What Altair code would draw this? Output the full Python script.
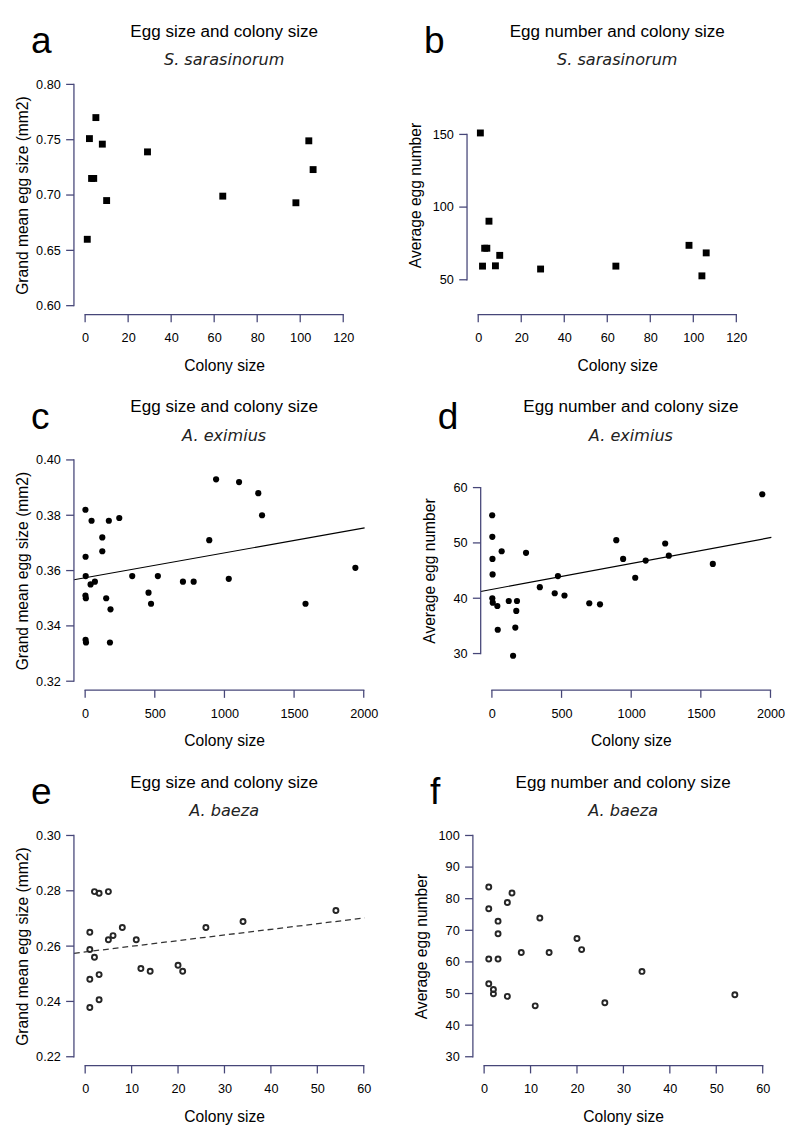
import altair as alt
import pandas as pd

FONT = "Liberation Sans"
W = 298           # plot width
H = 245           # plot height
CX = 154          # horizontal centre of the title block

# ---------------- data ----------------
ss_colony = [1, 2, 3, 4, 5, 8, 10, 29, 64, 98, 104, 106]
ss_eggsize = [0.660, 0.751, 0.715, 0.715, 0.770, 0.746, 0.695, 0.739, 0.699, 0.693, 0.749, 0.723]
ss_eggnum = [151, 59.4, 71.7, 71.7, 90.3, 59.6, 66.8, 57.4, 59.4, 73.7, 52.7, 68.5]

ae_colony_s = [2, 46, 3, 123, 123, 170, 245, 4, 70, 39, 2, 5, 151, 182, 3, 6,
               178, 338, 455, 473, 522, 702, 779, 891, 940, 1031, 1105, 1243, 1270, 1582, 1940]
ae_eggsize = [0.382, 0.378, 0.365, 0.372, 0.367, 0.378, 0.379, 0.358, 0.356, 0.355, 0.351,
              0.350, 0.350, 0.346, 0.335, 0.334, 0.334, 0.358, 0.352, 0.348, 0.358, 0.356,
              0.356, 0.371, 0.393, 0.357, 0.392, 0.388, 0.380, 0.348, 0.361]
ae_colony_n = [2, 3, 4, 5, 3, 6, 39, 42, 70, 121, 152, 168, 180, 175, 245, 344, 451,
               474, 521, 699, 776, 893, 942, 1029, 1104, 1244, 1270, 1586, 1941]
ae_eggnum = [55.0, 51.1, 47.1, 44.3, 40.0, 39.2, 38.6, 34.3, 48.5, 39.5, 29.6, 34.7, 39.5,
             37.7, 48.2, 42.0, 40.9, 44.0, 40.5, 39.1, 38.9, 50.5, 47.1, 43.7, 46.8, 49.9,
             47.7, 46.2, 58.8]

ab_colony_s = [2, 3, 5, 1, 1, 2, 1, 3, 3, 1, 5, 6, 8, 11, 12, 14, 20, 21, 26, 34, 54]
ab_eggsize = [0.2797, 0.2791, 0.2797, 0.265, 0.2588, 0.256, 0.248, 0.2497, 0.2406, 0.2378,
              0.2623, 0.2638, 0.2667, 0.2623, 0.2519, 0.2509, 0.2531, 0.2509, 0.2667,
              0.2689, 0.2729]
ab_colony_n = [1, 1, 1, 1, 2, 2, 3, 3, 3, 5, 6, 5, 8, 11, 12, 14, 20, 21, 26, 34, 54]
ab_eggnum = [83.7, 76.8, 60.9, 53.1, 51.3, 49.9, 72.9, 68.9, 60.9, 78.8, 81.8, 49.1, 63.0,
             46.1, 73.9, 63.0, 67.4, 63.9, 47.1, 57.0, 49.6]

fit_c = (0.3574, 9.0e-6)
fit_d = (41.6, 0.00468)
fit_e = (0.2579, 0.000204)

ticks_x_ss = [0, 20, 40, 60, 80, 100, 120]
ticks_x_ae = [0, 500, 1000, 1500, 2000]
ticks_x_ab = [0, 10, 20, 30, 40, 50, 60]
ticks_y_a = [0.60, 0.65, 0.70, 0.75, 0.80]
ticks_y_b = [50, 100, 150]
ticks_y_c = [0.32, 0.34, 0.36, 0.38, 0.40]
ticks_y_d = [30, 40, 50, 60]
ticks_y_e = [0.22, 0.24, 0.26, 0.28, 0.30]
ticks_y_f = [30, 40, 50, 60, 70, 80, 90, 100]

TICK_LEN = 8
LINE_W = 1.3
AXIS_COL = "#464678"


def panel(letter, title, species, xs, ys, ytitle, xdomain, ydomain, h,
          xticks, yticks, yfmt, kind, fit=None, dashed=False):
    def X(field):
        return alt.X(field, type="quantitative",
                     scale=alt.Scale(domain=xdomain, nice=False, zero=False),
                     axis=alt.Axis(values=xticks, format="d", title="Colony size",
                                   titleX=CX, titleY=52, titleBaseline="middle",
                                   titleAlign="center", labelPadding=10,
                                   labelFlush=False, labelOverlap=False,
                                   domain=False, grid=False, ticks=True,
                                   tickOpacity=0, tickSize=TICK_LEN))

    def Y(field):
        return alt.Y(field, type="quantitative",
                     scale=alt.Scale(domain=ydomain, nice=False, zero=False),
                     axis=alt.Axis(values=yticks, format=yfmt, title=ytitle,
                                   titleX=-52.5, titleY=h / 2, titleAngle=270,
                                   titleBaseline="middle", titleAlign="center",
                                   labelPadding=6, labelOverlap=False,
                                   domain=False, grid=False, ticks=True,
                                   tickOpacity=0, tickSize=TICK_LEN))

    px = (xdomain[1] - xdomain[0]) / W
    py = (ydomain[1] - ydomain[0]) / h
    hw = LINE_W / 2
    x0, y0 = xdomain[0], ydomain[0]

    # R-style detached axes: axis lines spanning the tick range + outward ticks
    rx, rx2, ry, ry2 = [], [], [], []
    rx.append(xticks[0] - hw * px); rx2.append(xticks[-1] + hw * px)
    ry.append(y0 - hw * py); ry2.append(y0 + hw * py)
    for v in xticks:
        rx.append(v - hw * px); rx2.append(v + hw * px)
        ry.append(y0); ry2.append(y0 - TICK_LEN * py)
    rx.append(x0 - hw * px); rx2.append(x0 + hw * px)
    ry.append(yticks[0] - hw * py); ry2.append(yticks[-1] + hw * py)
    for v in yticks:
        rx.append(x0); rx2.append(x0 - TICK_LEN * px)
        ry.append(v - hw * py); ry2.append(v + hw * py)
    axes = alt.Chart(pd.DataFrame({"x": rx, "x2": rx2, "y": ry, "y2": ry2})) \
        .mark_rect(opacity=1).encode(x=X("x"), x2="x2", y=Y("y"), y2="y2",
                                     color=alt.value(AXIS_COL))

    df = pd.DataFrame({"x": xs, "y": ys})
    base = alt.Chart(df)
    if kind == "square":
        pts = base.mark_square(size=50, color="black", opacity=1)
    elif kind == "disc":
        pts = base.mark_circle(size=40, color="black", opacity=1)
    else:
        pts = base.mark_point(shape="circle", filled=False, size=26,
                              strokeWidth=2, color="#262626", opacity=1)
    pts = pts.encode(x=X("x"), y=Y("y"))

    lab = alt.Chart(pd.DataFrame({"t": [letter]})).mark_text(
        align="left", baseline="alphabetic", fontSize=38, font=FONT, color="black"
    ).encode(x=alt.value(-44), y=alt.value(-23), text="t:N")
    ttl = alt.Chart(pd.DataFrame({"t": [title]})).mark_text(
        align="center", baseline="middle", fontSize=17.5, font=FONT, color="black"
    ).encode(x=alt.value(CX), y=alt.value(-45), text="t:N")
    sub = alt.Chart(pd.DataFrame({"t": [species]})).mark_text(
        align="center", baseline="middle", fontSize=16.5, font="DejaVu Sans",
        fontStyle="italic", color="#222222"
    ).encode(x=alt.value(CX), y=alt.value(-15.5), text="t:N")

    layers = []
    if fit is not None:
        a, b = fit
        ldf = pd.DataFrame({"x": [xdomain[0], xdomain[1]],
                            "y": [a + b * xdomain[0], a + b * xdomain[1]]})
        if dashed:
            ln = alt.Chart(ldf).mark_line(color="#333333", strokeWidth=1.3, strokeDash=[6, 4])
        else:
            ln = alt.Chart(ldf).mark_line(color="black", strokeWidth=1.2)
        layers.append(ln.encode(x=X("x"), y=Y("y")))
    layers += [pts, lab, ttl, sub, axes]
    return alt.layer(*layers).properties(width=W, height=h)


def xdom(lo, px_per_unit):
    return [lo, lo + W / px_per_unit]


pa = panel("a", "Egg size and colony size", "S. sarasinorum", ss_colony, ss_eggsize,
           "Grand mean egg size (mm2)", xdom(-5.2, 2.205), [0.592, 0.808], H,
           ticks_x_ss, ticks_y_a, ".2f", "square")
pb = panel("b", "Egg number and colony size", "S. sarasinorum", ss_colony, ss_eggnum,
           "Average egg number", xdom(-5.2, 2.205), [26.1, 190.5], H,
           ticks_x_ss, ticks_y_b, "d", "square")
pc = panel("c", "Egg size and colony size", "A. eximius", ae_colony_s, ae_eggsize,
           "Grand mean egg size (mm2)", xdom(-80.5, 0.1428), [0.3168, 0.4032], H,
           ticks_x_ae, ticks_y_c, ".2f", "disc", fit=fit_c)
pd_ = panel("d", "Egg number and colony size", "A. eximius", ae_colony_n, ae_eggnum,
            "Average egg number", xdom(-80.5, 0.1428), [23.4, 66.6], H,
            ticks_x_ae, ticks_y_d, "d", "disc", fit=fit_d)
pe = panel("e", "Egg size and colony size", "A. baeza", ab_colony_s, ab_eggsize,
           "Grand mean egg size (mm2)", xdom(-2.42, 4.76), [0.2168, 0.3032], H,
           ticks_x_ab, ticks_y_e, ".2f", "ring", fit=fit_e, dashed=True)
pf = panel("f", "Egg number and colony size", "A. baeza", ab_colony_n, ab_eggnum,
           "Average egg number", xdom(-2.42, 4.76), [27.2, 102.8], H,
           ticks_x_ab, ticks_y_f, "d", "ring")

COL_GAP = 43
ROW_GAP = 24

chart = alt.vconcat(
    alt.hconcat(pa, pb, spacing=COL_GAP),
    alt.hconcat(pc, pd_, spacing=COL_GAP),
    alt.hconcat(pe, pf, spacing=COL_GAP),
    spacing=ROW_GAP,
).properties(
    padding={"left": 5.6, "top": 0, "right": 0, "bottom": 0}
).configure_view(stroke="transparent").configure_axis(
    labelFont=FONT, labelFontSize=13, labelColor="#000000",
    titleFont=FONT, titleFontSize=16, titleFontWeight="normal", titleColor="#000000",
)

chart.save("out.html", embed_options={"renderer": "svg", "actions": False})
